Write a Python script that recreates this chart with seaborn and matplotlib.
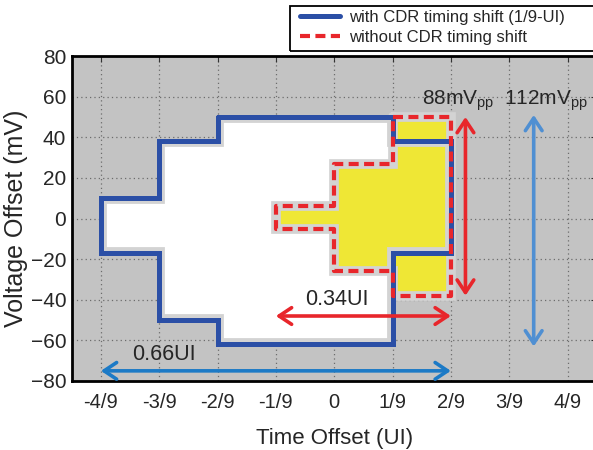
import matplotlib
matplotlib.use("Agg")
import matplotlib.pyplot as plt
from matplotlib.patches import Rectangle
import seaborn as sns

# ---------------- data ----------------
x_ticks = [-4/9, -3/9, -2/9, -1/9, 0, 1/9, 2/9, 3/9, 4/9]
x_tick_labels = ["-4/9", "-3/9", "-2/9", "-1/9", "0", "1/9", "2/9", "3/9", "4/9"]
y_ticks = [-80, -60, -40, -20, 0, 20, 40, 60, 80]

# eye contour with CDR timing shift (1/9-UI)
cdr_x = [-2/9, 1/9, 1/9, 2/9, 2/9, 1/9, 1/9, -2/9, -2/9, -3/9, -3/9, -4/9, -4/9, -3/9, -3/9, -2/9, -2/9]
cdr_y = [50, 50, 38, 38, -17, -17, -62, -62, -50, -50, -17, -17, 10, 10, 38, 38, 50]

# eye contour without CDR timing shift
nocdr_x = [1/9, 2/9, 2/9, 1/9, 1/9, 0, 0, -1/9, -1/9, 0, 0, 1/9, 1/9]
nocdr_y = [50, 50, -38, -38, -26, -26, -5, -5, 6, 6, 27, 27, 50]

label_cdr = "with CDR timing shift (1/9-UI)"
label_nocdr = "without CDR timing shift"

# annotations: horizontal spans (UI) and vertical spans (mV)
h066_x = [-4/9, 2/9]; h066_y = -75; h066_text = "0.66UI"
h034_x = [-1/9, 2/9]; h034_y = -48; h034_text = "0.34UI"
v88_y = [50, -38]; v88_x = 0.25; v88_text = "88mV"
v112_y = [51, -63]; v112_x = 0.38; v112_text = "112mV"

# ---------------- style ----------------
sns.set_style("white")
plt.rcParams["font.family"] = ["Liberation Sans", "DejaVu Sans"]
plt.rcParams["mathtext.fontset"] = "custom"
plt.rcParams["mathtext.rm"] = "Liberation Sans"

W, H = 593, 450
fig = plt.figure(figsize=(W / 100, H / 100), dpi=100)
ax = fig.add_axes([71.7 / W, (H - 381) / H, 525 / W, 325 / H])
ax.set_facecolor("#c3c3c3")

BLUE = "#2b4fa6"
RED = "#e8262b"
YELLOW = "#efe735"
HALO = "#d3d3d3"

# fills
white_poly = ax.fill(cdr_x, cdr_y, color="white", zorder=1, lw=0)[0]
ax.fill(nocdr_x, nocdr_y, color=YELLOW, zorder=1.1, lw=0)

# halos (blue halo only on the inner side)
sns.lineplot(x=cdr_x, y=cdr_y, sort=False, estimator=None, ax=ax, color=HALO,
             linewidth=8.5, zorder=2, legend=False, solid_joinstyle="miter")
ax.lines[-1].set_clip_path(white_poly)
sns.lineplot(x=nocdr_x, y=nocdr_y, sort=False, estimator=None, ax=ax, color=HALO,
             linewidth=7, zorder=2, legend=False, solid_joinstyle="miter")

# outlines
sns.lineplot(x=cdr_x, y=cdr_y, sort=False, estimator=None, ax=ax, color=BLUE,
             linewidth=3.6, zorder=3, label=label_cdr, solid_joinstyle="miter")
sns.lineplot(x=nocdr_x, y=nocdr_y, sort=False, estimator=None, ax=ax, color=RED,
             linewidth=3.0, zorder=4, label=label_nocdr, linestyle=(0, (2.4, 1.3)))

handles, labels = ax.get_legend_handles_labels()
if ax.get_legend() is not None:
    ax.get_legend().remove()

# arrows
def harrow(xs, y, color):
    ax.annotate("", xy=(xs[1], y), xytext=(xs[0], y),
                arrowprops=dict(arrowstyle="<->,head_length=0.45,head_width=0.3",
                                color=color, lw=2.6, mutation_scale=20,
                                shrinkA=0, shrinkB=0), zorder=5)

def varrow(x, ys, color):
    ax.annotate("", xy=(x, ys[1]), xytext=(x, ys[0]),
                arrowprops=dict(arrowstyle="<->,head_length=0.45,head_width=0.3",
                                color=color, lw=2.6, mutation_scale=20,
                                shrinkA=0, shrinkB=0), zorder=5)

harrow(h066_x, h066_y, "#1c7ac6")
harrow(h034_x, h034_y, RED)
varrow(v88_x, v88_y, RED)
varrow(v112_x, v112_y, "#4f8fd2")

ax.text(-0.324, -67, h066_text, fontsize=15.5, ha="center", va="center", zorder=6)
ax.text(0.005, -40, h034_text, fontsize=15.5, ha="center", va="center", zorder=6)
ax.text(0.236, 56, v88_text + r"$_{\mathregular{pp}}$", fontsize=15, ha="center",
        va="baseline", zorder=6)
ax.text(0.403, 56, v112_text + r"$_{\mathregular{pp}}$", fontsize=15, ha="center",
        va="baseline", zorder=6)

# axes
ax.set_xlim(-0.5, 0.5)
ax.set_ylim(-80, 80)
ax.set_xticks(x_ticks)
ax.set_xticklabels(x_tick_labels)
ax.set_yticks(y_ticks)
ax.tick_params(axis="both", direction="in", length=4, width=0.8, top=True, right=True,
               color="#333333")
ax.tick_params(axis="x", labelsize=14.5, pad=9)
ax.tick_params(axis="y", labelsize=15, pad=4)
ax.set_axisbelow(True)
ax.grid(True, linestyle=(0, (1, 2.5)), color="#6c6c6c", linewidth=0.9)
for s in ax.spines.values():
    s.set_linewidth(2)
    s.set_color("black")

ax.set_xlabel("Time Offset (UI)", fontsize=16)
ax.set_ylabel("Voltage Offset (mV)", fontsize=18)
ax.xaxis.set_label_coords(0.5, -0.145)
ax.yaxis.set_label_coords(-0.083, 0.5)

# legend
fig.legend(handles=handles, labels=labels, loc="upper left",
           bbox_to_anchor=(300 / W, 1 - 10 / H), frameon=False, fontsize=12,
           handlelength=2.4, handletextpad=0.55, labelspacing=0.3,
           borderpad=0, borderaxespad=0)
fig.add_artist(Rectangle((290 / W, 1 - 51 / H), 330 / W, 45 / H, fill=False,
                         edgecolor="black", lw=1.3, transform=fig.transFigure,
                         clip_on=False))

fig.savefig("out.png", dpi=100)
